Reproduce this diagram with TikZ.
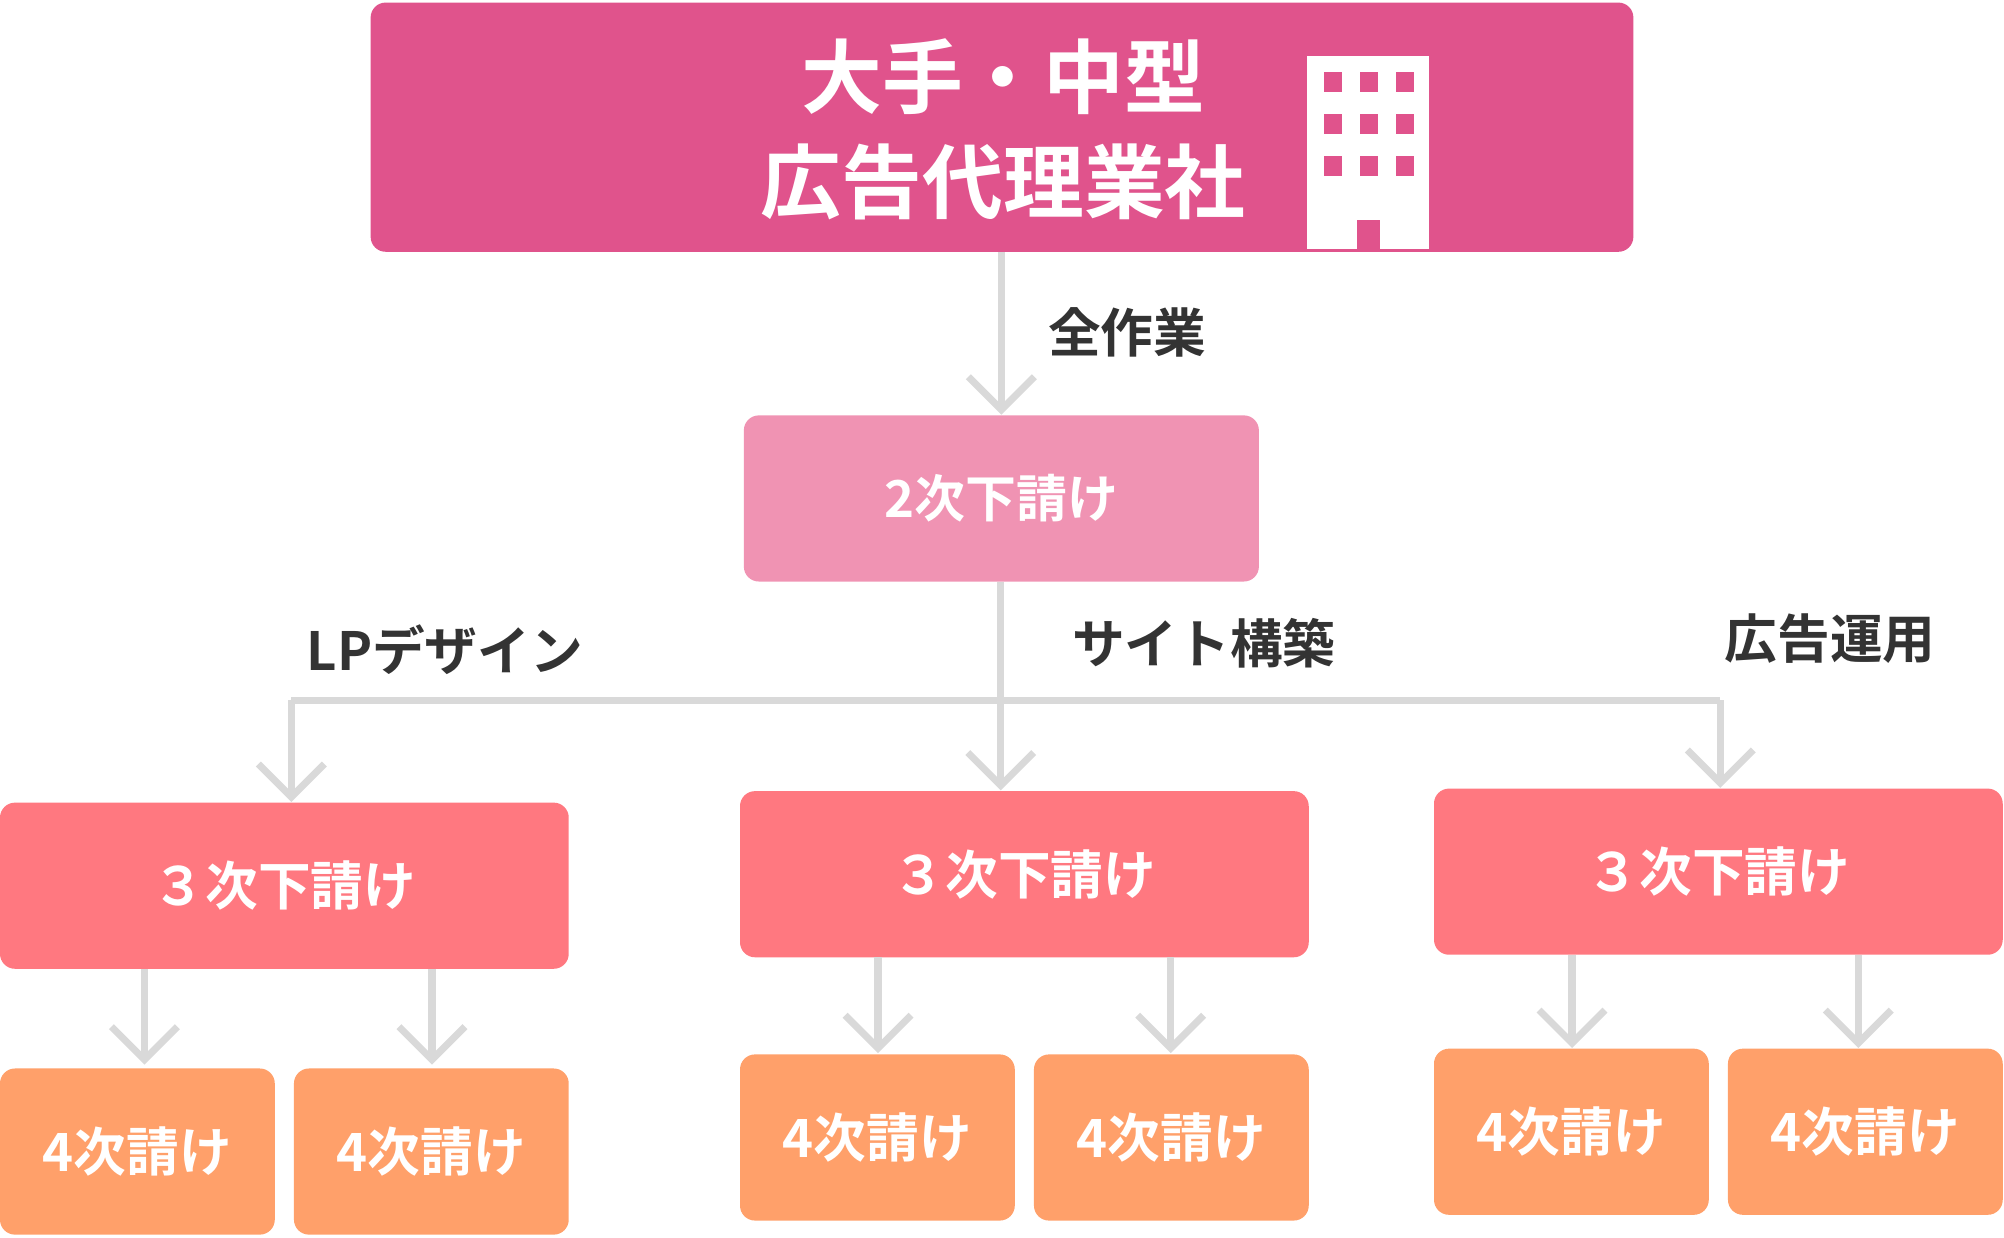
\documentclass[tikz,border=0pt]{standalone}
\usepackage{fontspec}
\setmainfont{Noto Sans CJK JP}[BoldFont={* Bold}]
\usetikzlibrary{arrows.meta}
\definecolor{topc}{HTML}{E0538C}
\definecolor{secc}{HTML}{F093B3}
\definecolor{thrc}{HTML}{FF7880}
\definecolor{fouc}{HTML}{FFA06A}
\definecolor{linec}{HTML}{D9D9D9}
\definecolor{txtc}{HTML}{333333}
\begin{document}
\begin{tikzpicture}[x=0.01278cm,y=-0.01278cm,
  box/.style={rounded corners=0.15cm,inner sep=0,text=white,font=\bfseries},
  conn/.style={draw=linec,line width=0.075cm,-{Straight Barb[length=0.33cm,width=0.66cm,line width=0.07cm]}},
  ln/.style={draw=linec,line width=0.075cm},
  lab/.style={text=txtc,font=\bfseries\fontsize{15}{18}\selectfont}]
\useasboundingbox (0,0) rectangle (1568,968);
\node[box,fill=topc,minimum width=988*0.01278cm,minimum height=195*0.01278cm] (top) at (784,99.5) {};
\node[text=white,font=\bfseries\fontsize{23}{30}\selectfont,align=center] (title) at (785,101) {大手・中型\\広告代理業社};
% building
\fill[white] (1023,44) rectangle (1118,195);
\foreach \c in {0,1,2}{\foreach \r in {0,1,2}{
  \fill[topc] (1036+\c*28,56+\r*33) rectangle (1050+\c*28,72+\r*33);}}
\fill[topc] (1062,172) rectangle (1080,195);
\node[box,fill=secc,minimum width=403*0.01278cm,minimum height=130*0.01278cm,font=\bfseries\fontsize{14.5}{18}\selectfont] (sec) at (783.5,390) {2次下請け};
\draw[conn] (top.south -| sec.north) -- (sec.north);
\node[lab] (l0) at (882,260) {全作業};
\begin{scope}[every node/.append style={box,fill=thrc,minimum width=445*0.01278cm,minimum height=130*0.01278cm,font=\bfseries\fontsize{15}{18}\selectfont}]
\node (t1) at (222.5,693) {３次下請け};
\node (t2) at (801.5,684) {３次下請け};
\node (t3) at (1344.5,682) {３次下請け};
\end{scope}
\coordinate (j) at (783,548);
\coordinate (jl) at (228,548);
\coordinate (jr) at (1346,548);
\draw[ln] (sec.south -| j) -- (j);
\draw[ln] (jl) -- (jr);
\draw[conn] (jl) -- (jl |- t1.north);
\draw[conn] (j) -- (j |- t2.north);
\draw[conn] (jr) -- (jr |- t3.north);
\node[lab] at (348,508) {LPデザイン};
\node[lab] at (942,503) {サイト構築};
\node[lab] at (1432,500) {広告運用};
\begin{scope}[every node/.append style={box,fill=fouc,minimum width=215*0.01278cm,minimum height=130*0.01278cm,font=\bfseries\fontsize{15}{18}\selectfont}]
\node (f1) at (107.5,901) {4次請け};
\node (f2) at (337.5,901) {4次請け};
\node (f3) at (686.5,890) {4次請け};
\node (f4) at (916.5,890) {4次請け};
\node (f5) at (1229.5,885.5) {4次請け};
\node (f6) at (1459.5,885.5) {4次請け};
\end{scope}
\draw[conn] (113,758) -- (113,833);
\draw[conn] (338,758) -- (338,833);
\draw[conn] (687,749) -- (687,824);
\draw[conn] (916,749) -- (916,824);
\draw[conn] (1230,747) -- (1230,820);
\draw[conn] (1454,747) -- (1454,820);
\end{tikzpicture}
\end{document}
